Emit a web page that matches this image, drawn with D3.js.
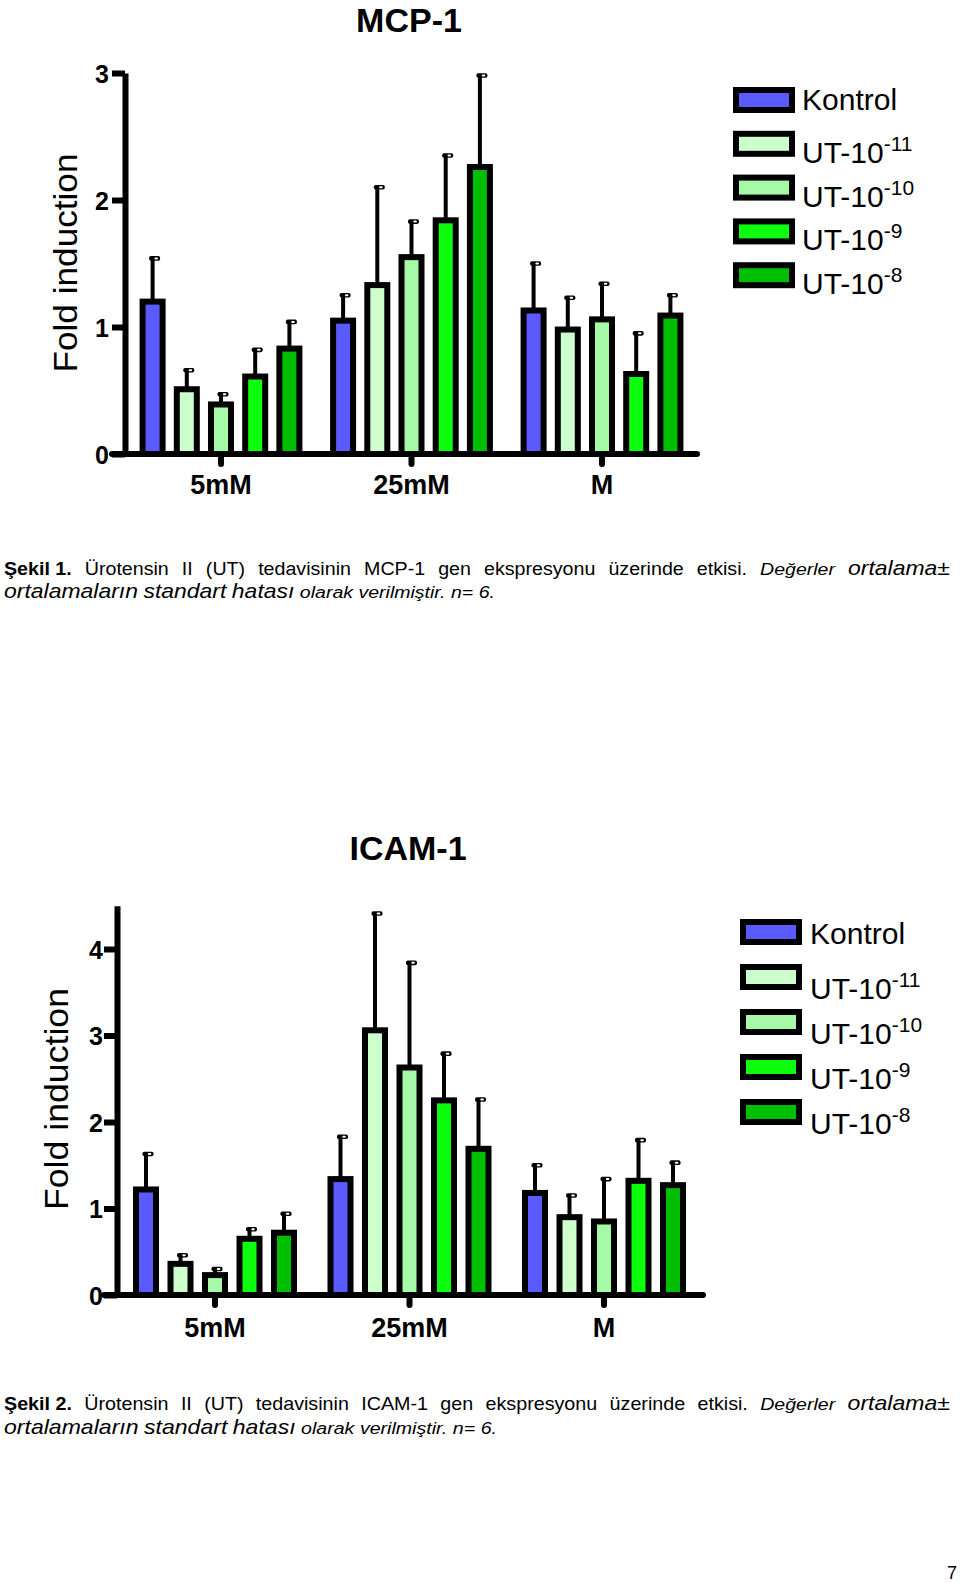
<!DOCTYPE html>
<html>
<head>
<meta charset="utf-8">
<script src="https://cdn.jsdelivr.net/npm/d3@7"></script>
<style>
html,body{margin:0;padding:0;background:#fff;}
svg{display:block;}
</style>
</head>
<body>
<script>
// ---------- DATA ----------
const groups = ["5mM", "25mM", "M"];
const seriesBase = ["Kontrol", "UT-10", "UT-10", "UT-10", "UT-10"];
const seriesExp = ["", "-11", "-10", "-9", "-8"];
const seriesColors = ["#5a5aff", "#ccffcc", "#a6f9a6", "#0dff0d", "#00bf00"];

// MCP-1 means and SEM (rows = groups, cols = series)
const mcpMeans = [
  [1.20, 0.51, 0.39, 0.61, 0.83],
  [1.05, 1.33, 1.55, 1.84, 2.26],
  [1.13, 0.98, 1.06, 0.63, 1.09]
];
const mcpSem = [
  [0.34, 0.15, 0.08, 0.21, 0.21],
  [0.20, 0.77, 0.28, 0.51, 0.72],
  [0.37, 0.25, 0.28, 0.32, 0.16]
];
const mcpTicks = [0, 1, 2, 3];

// ICAM-1 means and SEM
const icamMeans = [
  [1.22, 0.36, 0.23, 0.65, 0.72],
  [1.34, 3.06, 2.63, 2.25, 1.69],
  [1.18, 0.90, 0.85, 1.32, 1.27]
];
const icamSem = [
  [0.41, 0.10, 0.07, 0.11, 0.22],
  [0.49, 1.35, 1.21, 0.54, 0.57],
  [0.32, 0.25, 0.49, 0.47, 0.26]
];
const icamTicks = [0, 1, 2, 3, 4];

const yLabel = "Fold induction";

const caption1 = [
  [{t: "Şekil 1.", b: 1}, {t: "Ürotensin"}, {t: "II"}, {t: "(UT)"}, {t: "tedavisinin"}, {t: "MCP-1"}, {t: "gen"}, {t: "ekspresyonu"}, {t: "üzerinde"}, {t: "etkisi."}, {t: "Değerler", i: 1}, {t: "ortalama±", i: 1, big: 1}],
  [{t: "ortalamaların", i: 1, big: 1}, {t: "standart", i: 1, big: 1}, {t: "hatası", i: 1, big: 1}, {t: "olarak", i: 1}, {t: "verilmiştir.", i: 1}, {t: "n=", i: 1}, {t: "6.", i: 1}]
];
const caption2 = [
  [{t: "Şekil 2.", b: 1}, {t: "Ürotensin"}, {t: "II"}, {t: "(UT)"}, {t: "tedavisinin"}, {t: "ICAM-1"}, {t: "gen"}, {t: "ekspresyonu"}, {t: "üzerinde"}, {t: "etkisi."}, {t: "Değerler", i: 1}, {t: "ortalama±", i: 1, big: 1}],
  [{t: "ortalamaların", i: 1, big: 1}, {t: "standart", i: 1, big: 1}, {t: "hatası", i: 1, big: 1}, {t: "olarak", i: 1}, {t: "verilmiştir.", i: 1}, {t: "n=", i: 1}, {t: "6.", i: 1}]
];

// ---------- DRAW ----------
const FONT = "'Liberation Sans', Arial, Helvetica, sans-serif";
const svg = d3.select("body").append("svg").attr("width", 960).attr("height", 1583);
svg.append("rect").attr("width", 960).attr("height", 1583).attr("fill", "#fff");

function drawChart(c) {
  const g = svg.append("g");
  const y = d3.scaleLinear().domain([0, c.yMax]).range([c.y0, c.y0 - c.yMax * c.unit]);
  const x0 = d3.scaleBand().domain(groups).range(c.groupRange).paddingInner(0).paddingOuter(0);
  const gs = x0.bandwidth();
  const pIn = 1 - c.barW / c.barStep;
  const pOut = (gs / c.barStep - 5 + pIn) / 2;
  const x1 = d3.scaleBand().domain(d3.range(5)).range([0, gs]).paddingInner(pIn).paddingOuter(pOut);
  const data = groups.flatMap((gn, gi) => c.means[gi].map((m, si) => ({g: gn, s: si, m: m, e: c.sem[gi][si]})));
  const cx = d => x0(d.g) + x1(d.s) + x1.bandwidth() / 2;

  // error bars (upper only)
  const eb = g.append("g").selectAll("g").data(data).join("g");
  eb.append("line")
    .attr("x1", cx).attr("x2", cx)
    .attr("y1", d => y(d.m)).attr("y2", d => y(d.m + d.e))
    .attr("stroke", "#000").attr("stroke-width", 4);
  eb.append("rect")
    .attr("x", d => cx(d) - 3.5).attr("y", d => y(d.m + d.e) - 2.3)
    .attr("width", 11).attr("height", 4.6).attr("rx", 1.8)
    .attr("fill", "#000");
  eb.append("rect")
    .attr("x", d => cx(d) + 1.8).attr("y", d => y(d.m + d.e) - 1)
    .attr("width", 3.6).attr("height", 2).attr("rx", 1)
    .attr("fill", "#fff");

  // bars
  g.append("g").selectAll("rect").data(data).join("rect")
    .attr("x", d => x0(d.g) + x1(d.s))
    .attr("y", d => y(d.m))
    .attr("width", x1.bandwidth())
    .attr("height", d => y(0) - y(d.m))
    .attr("fill", d => seriesColors[d.s])
    .attr("stroke", "#000").attr("stroke-width", 6);

  // y axis
  const ya = g.append("g").attr("transform", `translate(${c.yAxisX},0)`)
    .call(d3.axisLeft(y).tickValues(c.ticks).tickFormat(d3.format("d")).tickSize(13).tickSizeOuter(0).tickPadding(c.tickPad));
  ya.select(".domain").attr("stroke", "#000").attr("stroke-width", 6);
  ya.selectAll(".tick line").attr("stroke", "#000").attr("stroke-width", 6);
  ya.selectAll(".tick text").style("font-family", FONT).style("font-size", "25px").style("font-weight", "bold").attr("fill", "#000").attr("dy", "0.36em");

  // x axis
  const xa = g.append("g").attr("transform", `translate(0,${y(0)})`)
    .call(d3.axisBottom(x0).tickSize(10).tickSizeOuter(0));
  xa.select(".domain").remove();
  xa.selectAll(".tick line").attr("stroke", "#000").attr("stroke-width", 6).attr("stroke-linecap", "round");
  xa.selectAll(".tick text").attr("y", c.catOffset).attr("dy", 0)
    .style("font-family", FONT).style("font-size", "27px").style("font-weight", "bold").attr("fill", "#000");
  g.append("line")
    .attr("x1", c.yAxisX - 13).attr("x2", c.axisEnd)
    .attr("y1", y(0)).attr("y2", y(0))
    .attr("stroke", "#000").attr("stroke-width", 6).attr("stroke-linecap", "round");

  // title
  g.append("text").attr("x", c.titleX).attr("y", c.titleY).attr("text-anchor", "middle")
    .style("font-family", FONT).style("font-size", "34px").style("font-weight", "bold").text(c.title);

  // y label
  g.append("text").attr("transform", `translate(${c.ylabX},${c.ylabY}) rotate(-90)`)
    .attr("text-anchor", "middle")
    .attr("textLength", c.ylabLen).attr("lengthAdjust", "spacingAndGlyphs")
    .style("font-family", FONT).style("font-size", "33px").text(yLabel);

  // legend
  const L = c.legend;
  const lg = g.append("g").selectAll("g").data(seriesBase).join("g")
    .attr("transform", (d, i) => `translate(0,${L.y + i * L.step})`);
  lg.append("rect").attr("x", L.x + 3).attr("y", 3).attr("width", 56).attr("height", 20)
    .attr("fill", (d, i) => seriesColors[i]).attr("stroke", "#000").attr("stroke-width", 6);
  const lt = lg.append("text").attr("x", L.textX).attr("y", (d, i) => i === 0 ? L.kDy : L.uDy)
    .style("font-family", FONT).style("font-size", "30px");
  lt.append("tspan").text(d => d);
  lt.append("tspan").attr("dy", -12).style("font-size", "21px").text((d, i) => seriesExp[i]);
}

drawChart({
  means: mcpMeans, sem: mcpSem, ticks: mcpTicks, yMax: 3, y0: 454, unit: 127,
  yAxisX: 125, groupRange: [125.75, 697.25], barStep: 34.2, barW: 20, axisEnd: 697,
  tickPad: 3, catOffset: 40,
  title: "MCP-1", titleX: 409, titleY: 32,
  ylabX: 77, ylabY: 263, ylabLen: 219,
  legend: {x: 733, y: 87, step: 43.8, textX: 802, kDy: 23, uDy: 32}
});

drawChart({
  means: icamMeans, sem: icamSem, ticks: icamTicks, yMax: 4.5, y0: 1295, unit: 86.5,
  yAxisX: 117, groupRange: [117.75, 701.25], barStep: 34.5, barW: 20, axisEnd: 703,
  tickPad: 1, catOffset: 42,
  title: "ICAM-1", titleX: 408, titleY: 860,
  ylabX: 68, ylabY: 1099, ylabLen: 222,
  legend: {x: 740, y: 919, step: 45, textX: 810, kDy: 25, uDy: 35}
});

// captions
function caption(lines, y1, y2, line2Width) {
  const base = 17, big = 20, reg1 = 18;
  const mk = (g, w, fs) => g.append("text")
    .style("font-family", FONT)
    .style("font-size", fs + "px")
    .style("font-weight", w.b ? "bold" : "normal")
    .style("font-style", w.i ? "italic" : "normal")
    .attr("fill", "#000")
    .text(w.t);
  const tmp = svg.append("text").style("font-family", FONT).style("font-size", base + "px").text("a a");
  const tmp2 = svg.append("text").style("font-family", FONT).style("font-size", base + "px").text("aa");
  const sp = tmp.node().getComputedTextLength() - tmp2.node().getComputedTextLength();
  tmp.remove(); tmp2.remove();

  // line 2: left aligned, determine condense factor
  const g2 = svg.append("g");
  const t2 = lines[1].map(w => mk(g2, w, w.big ? big : base));
  const w2 = t2.map(t => t.node().getComputedTextLength());
  const nat2 = d3.sum(w2) + sp * (w2.length - 1);
  const sx = line2Width / nat2;
  let xx = 0;
  t2.forEach((t, i) => { t.attr("x", xx); xx += w2[i] + sp; });
  g2.attr("transform", `translate(4,${y2}) scale(${sx},1)`);

  // line 1: justified from 4 to 950
  const g1 = svg.append("g").attr("transform", `translate(4,${y1})`);
  const words = lines[0];
  const t1 = words.map(w => mk(g1, w, w.i ? (w.big ? big : base) : reg1));
  const sc = words.map(w => w.i ? sx : sx * 0.95);
  const w1 = t1.map((t, i) => t.node().getComputedTextLength() * sc[i]);
  const gap = (946 - d3.sum(w1)) / (w1.length - 1);
  let x1 = 0;
  t1.forEach((t, i) => { t.attr("transform", `translate(${x1},0) scale(${sc[i]},1)`); x1 += w1[i] + gap; });
}
caption(caption1, 575, 598, 491);
caption(caption2, 1410, 1434, 493);

svg.append("text").attr("x", 957).attr("y", 1579).attr("text-anchor", "end")
  .style("font-family", FONT).style("font-size", "18px").text("7");
</script>
</body>
</html>
